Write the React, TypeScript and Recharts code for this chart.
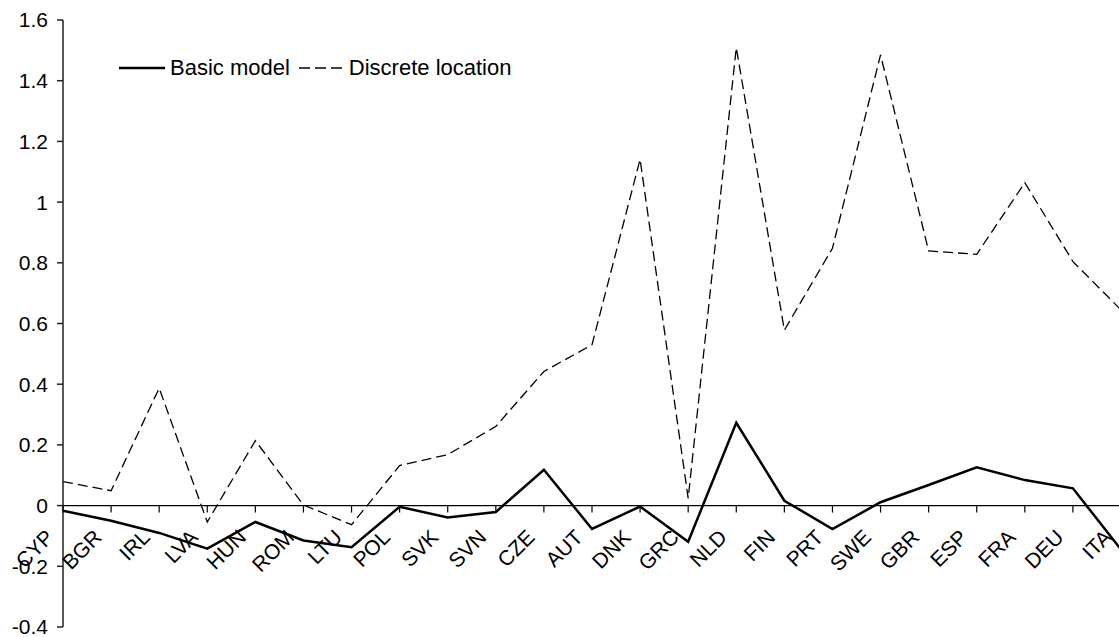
import { LineChart, Line, XAxis, YAxis, ReferenceLine, ReferenceDot, Legend } from 'recharts'

const countries = ['CYP', 'BGR', 'IRL', 'LVA', 'HUN', 'ROM', 'LTU', 'POL', 'SVK', 'SVN', 'CZE', 'AUT', 'DNK', 'GRC', 'NLD', 'FIN', 'PRT', 'SWE', 'GBR', 'ESP', 'FRA', 'DEU', 'ITA']
const basicModel = [-0.017, -0.05, -0.09, -0.142, -0.054, -0.115, -0.137, -0.004, -0.039, -0.021, 0.118, -0.077, -0.003, -0.119, 0.273, 0.016, -0.077, 0.011, 0.068, 0.126, 0.084, 0.057, -0.145]
const discreteLocation = [0.079, 0.049, 0.387, -0.054, 0.214, 0.002, -0.063, 0.132, 0.168, 0.261, 0.442, 0.53, 1.141, 0.024, 1.509, 0.578, 0.848, 1.485, 0.839, 0.828, 1.064, 0.804, 0.645]
const yTicks = [-0.4, -0.2, 0, 0.2, 0.4, 0.6, 0.8, 1, 1.2, 1.4, 1.6]

const data = countries.map((c, i) => ({ country: c, basic: basicModel[i], discrete: discreteLocation[i] }))

const FONT = '"Liberation Sans", Arial, sans-serif'
const FS = 21

function CategoryTick({ cx, cy, text }: any) {
  const ax = cx - 8
  const ay = cy + 33
  return (
    <g>
      <line x1={cx} y1={cy} x2={cx} y2={cy + 7} stroke="#000" strokeWidth={1.2} />
      <text x={ax} y={ay} transform={`rotate(-45 ${ax} ${ay})`} textAnchor="end" fontSize={FS} fontFamily={FONT} fill="#000">
        {text}
      </text>
    </g>
  )
}

function LegendBox() {
  return (
    <div style={{ display: 'flex', alignItems: 'center', fontFamily: FONT, fontSize: 22, color: '#000', whiteSpace: 'nowrap' }}>
      <svg width={46} height={10}><line x1={0} y1={5} x2={46} y2={5} stroke="#000" strokeWidth={2.5} /></svg>
      <span style={{ marginLeft: 5 }}>Basic model</span>
      <svg width={43} height={10} style={{ marginLeft: 9 }}><line x1={0} y1={5} x2={43} y2={5} stroke="#000" strokeWidth={1.3} strokeDasharray="11 5" /></svg>
      <span style={{ marginLeft: 7 }}>Discrete location</span>
    </div>
  )
}

export default function App() {
  return (
    <div style={{ position: 'absolute', left: 0, top: 0, width: 1119, height: 637, overflow: 'hidden', background: '#fff' }}>
      <LineChart width={1125} height={637} data={data} margin={{ top: 20, right: 4, bottom: 10, left: 0 }}>
        <XAxis dataKey="country" hide />
        <YAxis
          domain={[-0.4, 1.6]}
          ticks={yTicks}
          interval={0}
          width={63}
          tickSize={6}
          tickMargin={9}
          axisLine={{ stroke: '#222', strokeWidth: 1.5 }}
          tickLine={{ stroke: '#222', strokeWidth: 1.5 }}
          tick={{ fontSize: FS, fontFamily: FONT, fill: '#000' }}
          tickFormatter={(v: number) => String(Math.round(v * 10) / 10)}
          allowDataOverflow
        />
        <ReferenceLine y={0} stroke="#000" strokeWidth={1.2} />
        <Legend
          layout="horizontal"
          align="center"
          verticalAlign="middle"
          wrapperStyle={{ left: 119, top: 55, width: 'auto' }}
          content={() => <LegendBox />}
        />
        <Line type="linear" dataKey="discrete" stroke="#000" strokeWidth={1.3} strokeDasharray="10 5" dot={false} isAnimationActive={false} />
        <Line type="linear" dataKey="basic" stroke="#000" strokeWidth={2.5} dot={false} isAnimationActive={false} />
        {countries.map((c) => (
          <ReferenceDot key={c} x={c} y={0} r={0} shape={(p: any) => <CategoryTick {...p} text={c} />} />
        ))}
      </LineChart>
    </div>
  )
}
